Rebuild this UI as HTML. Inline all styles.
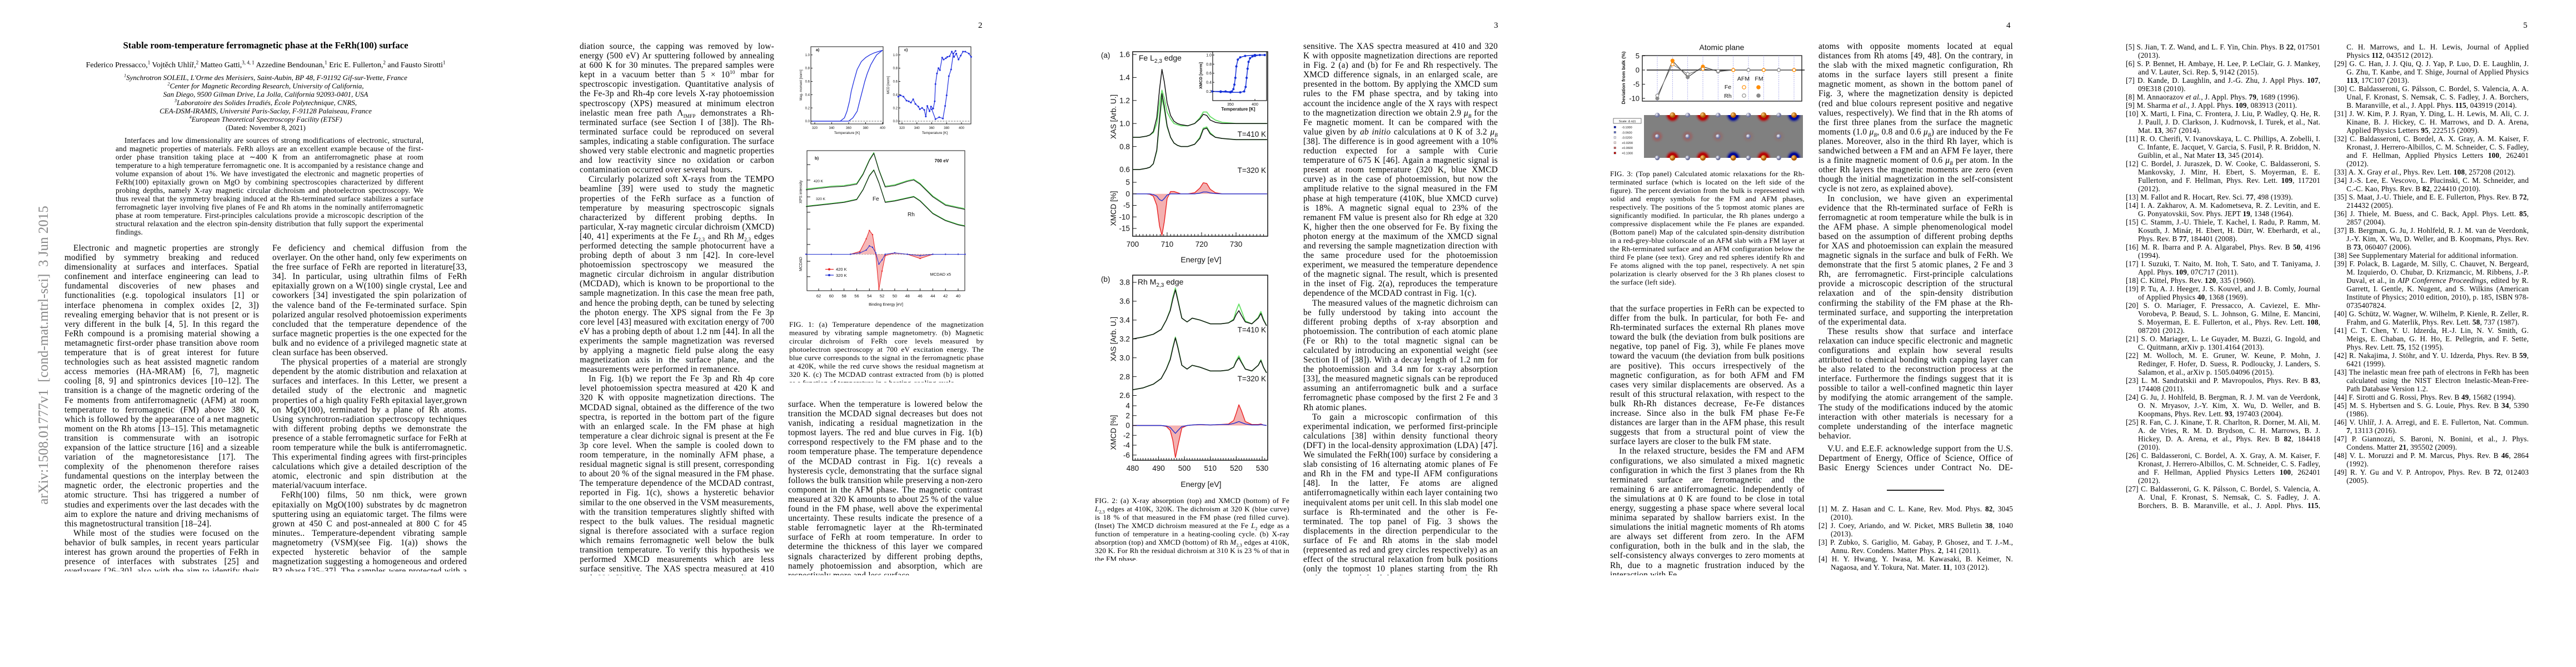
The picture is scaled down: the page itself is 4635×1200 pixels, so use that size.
<!DOCTYPE html>
<html lang="en"><head><meta charset="utf-8">
<style>
html,body{margin:0;padding:0;background:#fff;}
body{width:4635px;height:1200px;position:relative;overflow:hidden;font-family:"Liberation Serif",serif;color:#000;}
.col{position:absolute;width:350px;font-size:15.3px;line-height:17.1px;letter-spacing:0.25px;text-align:justify;overflow:hidden;hyphens:auto;-webkit-hyphens:auto;}
.col p{margin:0;text-indent:16px;}
.col p.ni{text-indent:0;}
.cap{position:absolute;width:350px;font-size:13.1px;line-height:15px;letter-spacing:0.2px;text-align:justify;overflow:hidden;hyphens:auto;}
.ref{position:absolute;width:350px;font-size:13.2px;line-height:15px;letter-spacing:0.2px;text-align:justify;overflow:hidden;hyphens:auto;}
.ref div{padding-left:22px;text-indent:-22px;}
.pn{position:absolute;top:38px;font-size:15px;}
.ctr{position:absolute;left:116px;width:724px;text-align:center;}
sup,sub{line-height:0;}
</style></head><body>

<!-- PAGE 1 -->
<div style="position:absolute;left:66px;top:337px;width:26px;height:604px;">
<div style="position:absolute;left:-289px;top:289px;width:604px;height:26px;transform:rotate(-90deg);font-size:25px;line-height:26px;color:#888;white-space:nowrap;text-align:center;">arXiv:1508.01777v1&nbsp; [cond-mat.mtrl-sci]&nbsp; 3 Jun 2015</div></div>
<div class="ctr" style="top:72px;font-size:16.8px;font-weight:bold;">Stable room-temperature ferromagnetic phase at the FeRh(100) surface</div>
<div class="ctr" style="top:110px;font-size:14px;">Federico Pressacco,<sup style="font-size:9px">1</sup> Vojtěch Uhlíř,<sup style="font-size:9px">2</sup> Matteo Gatti,<sup style="font-size:9px">3, 4, 1</sup> Azzedine Bendounan,<sup style="font-size:9px">1</sup> Eric E. Fullerton,<sup style="font-size:9px">2</sup> and Fausto Sirotti<sup style="font-size:9px">1</sup></div>
<div class="ctr" style="top:132px;font-size:13px;line-height:15px;font-style:italic;">
<sup style="font-size:8px">1</sup>Synchrotron SOLEIL, L'Orme des Merisiers, Saint-Aubin, BP 48, F-91192 Gif-sur-Yvette, France<br>
<sup style="font-size:8px">2</sup>Center for Magnetic Recording Research, University of California,<br>
San Diego, 9500 Gilman Drive, La Jolla, California 92093-0401, USA<br>
<sup style="font-size:8px">3</sup>Laboratoire des Solides Irradiés, École Polytechnique, CNRS,<br>
CEA-DSM-IRAMIS, Université Paris-Saclay, F-91128 Palaiseau, France<br>
<sup style="font-size:8px">4</sup>European Theoretical Spectroscopy Facility (ETSF)<br>
<span style="font-style:normal">(Dated: November 8, 2021)</span></div>
<div style="position:absolute;left:208px;top:245px;width:554px;font-size:13.4px;line-height:15px;letter-spacing:0.2px;text-align:justify;text-indent:16px;hyphens:auto;">Interfaces and low dimensionality are sources of strong modifications of electronic, structural, and magnetic properties of materials. FeRh alloys are an excellent example because of the first-order phase transition taking place at ∼400 K from an antiferromagnetic phase at room temperature to a high temperature ferromagnetic one. It is accompanied by a resistance change and volume expansion of about 1%. We have investigated the electronic and magnetic properties of FeRh(100) epitaxially grown on MgO by combining spectroscopies characterized by different probing depths, namely X-ray magnetic circular dichroism and photoelectron spectroscopy. We thus reveal that the symmetry breaking induced at the Rh-terminated surface stabilizes a surface ferromagnetic layer involving five planes of Fe and Rh atoms in the nominally antiferromagnetic phase at room temperature. First-principles calculations provide a microscopic description of the structural relaxation and the electron spin-density distribution that fully support the experimental findings.</div>

<div class="col" style="left:116px;top:438px;height:590px;">
<p>Electronic and magnetic properties are strongly modified by symmetry breaking and reduced dimensionality at surfaces and interfaces. Spatial confinement and interface engineering can lead to fundamental discoveries of new phases and functionalities (e.g. topological insulators [1] or interface phenomena in complex oxides [2, 3]) revealing emerging behavior that is not present or is very different in the bulk [4, 5]. In this regard the FeRh compound is a promising material showing a metamagnetic first-order phase transition above room temperature that is of great interest for future technologies such as heat assisted magnetic random access memories (HA-MRAM) [6, 7], magnetic cooling [8, 9] and spintronics devices [10–12]. The transition is a change of the magnetic ordering of the Fe moments from antiferromagnetic (AFM) at room temperature to ferromagnetic (FM) above 380 K, which is followed by the appearance of a net magnetic moment on the Rh atoms [13–15]. This metamagnetic transition is commensurate with an isotropic expansion of the lattice structure [16] and a sizeable variation of the magnetoresistance [17]. The complexity of the phenomenon therefore raises fundamental questions on the interplay between the magnetic order, the electronic properties and the atomic structure. Thsi has triggered a number of studies and experiments over the last decades with the aim to explore the nature and driving mechanisms of this magnetostructural transition [18–24].</p>
<p>While most of the studies were focused on the behavior of bulk samples, in recent years particular interest has grown around the properties of FeRh in presence of interfaces with substrates [25] and overlayers [26–30], also with the aim to identify their influence on the nucleation of the FM domains associated with the phase transition [21, 31, 32]. The identification of an interfacial FM layer was attributed to a combination of the effects of strain,</p></div>
<div class="col" style="left:490px;top:438px;height:590px;">
<p class="ni">Fe deficiency and chemical diffusion from the overlayer. On the other hand, only few experiments on the free surface of FeRh are reported in literature[33, 34]. In particular, using ultrathin films of FeRh epitaxially grown on a W(100) single crystal, Lee and coworkers [34] investigated the spin polarization of the valence band of the Fe-terminated surface. Spin polarized angular resolved photoemission experiments concluded that the temperature dependence of the surface magnetic properties is the one expected for the bulk and no evidence of a privileged magnetic state at clean surface has been observed.</p>
<p>The physical properties of a material are strongly dependent by the atomic distribution and relaxation at surfaces and interfaces. In this Letter, we present a detailed study of the electronic and magnetic properties of a high quality FeRh epitaxial layer,grown on MgO(100), terminated by a plane of Rh atoms. Using synchrotron-radiation spectroscopy techniques with different probing depths we demonstrate the presence of a stable ferromagnetic surface for FeRh at room temperature while the bulk is antiferromagnetic. This experimental finding agrees with first-principles calculations which give a detailed description of the atomic, electronic and spin distribution at the material/vacuum interface.</p>
<p>FeRh(100) films, 50 nm thick, were grown epitaxially on MgO(100) substrates by dc magnetron sputtering using an equiatomic target. The films were grown at 450 C and post-annealed at 800 C for 45 minutes.. Temperature-dependent vibrating sample magnetometry (VSM)(see Fig. 1(a)) shows the expected hysteretic behavior of the sample magnetization suggesting a homogeneous and ordered B2 phase [35–37]. The samples were protected with a 2 nm thick Pt layer grown after cooling down to room temperature. In the preparation chamber of the TEMPO beamline at the SOLEIL synchrotron ra-</p></div>

<!-- PAGE 2 -->
<div class="pn" style="left:1760px;">2</div>
<div class="col" style="left:1043px;top:75px;height:960px;">
<p class="ni">diation source, the capping was removed by low-energy (500 eV) Ar sputtering followed by annealing at 600 K for 30 minutes. The prepared samples were kept in a vacuum better than 5 × 10<sup style="font-size:9px">10</sup> mbar for spectroscopic investigation. Quantitative analysis of the Fe-3p and Rh-4p core levels X-ray photoemission spectroscopy (XPS) measured at minimum electron inelastic mean free path Λ<sub style="font-size:9px">IMFP</sub> demonstrates a Rh-terminated surface (see Section I of [38]). The Rh-terminated surface could be reproduced on several samples, indicating a stable configuration. The surface showed very stable electronic and magnetic properties and low reactivity since no oxidation or carbon contamination occurred over several hours.</p>
<p>Circularly polarized soft X-rays from the TEMPO beamline [39] were used to study the magnetic properties of the FeRh surface as a function of temperature by measuring spectroscopic signals characterized by different probing depths. In particular, X-ray magnetic circular dichroism (XMCD) [40, 41] experiments at the Fe <i>L</i><sub style="font-size:9px">2,3</sub> and Rh <i>M</i><sub style="font-size:9px">2,3</sub> edges performed detecting the sample photocurrent have a probing depth of about 3 nm [42]. In core-level photoemission spectroscopy we measured the magnetic circular dichroism in angular distribution (MCDAD), which is known to be proportional to the sample magnetization. In this case the mean free path, and hence the probing depth, can be tuned by selecting the photon energy. The XPS signal from the Fe 3p core level [43] measured with excitation energy of 700 eV has a probing depth of about 1.2 nm [44]. In all the experiments the sample magnetization was reversed by applying a magnetic field pulse along the easy magnetization axis in the surface plane, and the measurements were performed in remanence.</p>
<p>In Fig. 1(b) we report the Fe 3p and Rh 4p core level photoemission spectra measured at 420 K and 320 K with opposite magnetization directions. The MCDAD signal, obtained as the difference of the two spectra, is reported in the bottom part of the figure with an enlarged scale. In the FM phase at high temperature a clear dichroic signal is present at the Fe 3p core level. When the sample is cooled down to room temperature, in the nominally AFM phase, a residual magnetic signal is still present, corresponding to about 20 % of the signal measured in the FM phase. The temperature dependence of the MCDAD contrast, reported in Fig. 1(c), shows a hysteretic behavior similar to the one observed in the VSM measurements, with the transition temperatures slightly shifted with respect to the bulk values. The residual magnetic signal is therefore associated with a surface region which remains ferromagnetic well below the bulk transition temperature. To verify this hypothesis we performed XMCD measurements which are less surface sensitive. The XAS spectra measured at 410 and 320 K with opposite magnetization directions were recorded both for the Fe and Rh absorption edges and compared with the photoemission results.</p></div>
<div class="cap" style="left:1420px;top:576px;height:112px;">FIG. 1: (a) Temperature dependence of the magnetization measured by vibrating sample magnetometry. (b) Magnetic circular dichroism of FeRh core levels measured by photoelectron spectroscopy at 700 eV excitation energy. The blue curve corresponds to the signal in the ferromagnetic phase at 420K, while the red curve shows the residual magnetism at 320 K. (c) The MCDAD contrast extracted from (b) is plotted as a function of temperature in a heating-cooling cycle.</div>
<div class="col" style="left:1418px;top:719px;height:316px;">
<p class="ni">surface. When the temperature is lowered below the transition the MCDAD signal decreases but does not vanish, indicating a residual magnetization in the topmost layers. The red and blue curves in Fig. 1(b) correspond respectively to the FM phase and to the room temperature phase. The temperature dependence of the MCDAD contrast in Fig. 1(c) reveals a hysteresis cycle, demonstrating that the surface signal follows the bulk transition while preserving a non-zero component in the AFM phase. The magnetic contrast measured at 320 K amounts to about 25 % of the value found in the FM phase, well above the experimental uncertainty. These results indicate the presence of a stable ferromagnetic layer at the Rh-terminated surface of FeRh at room temperature. In order to determine the thickness of this layer we compared signals characterized by different probing depths, namely photoemission and absorption, which are respectively more and less surface</p></div>

<!-- PAGE 3 -->
<div class="pn" style="left:2688px;">3</div>
<div class="cap" style="left:1970px;top:893px;height:116px;">FIG. 2: (a) X-ray absorption (top) and XMCD (bottom) of Fe <i>L</i><sub style="font-size:8px">2,3</sub> edges at 410K, 320K. The dichroism at 320 K (blue curve) is 18 % of that measured in the FM phase (red filled curve). (Inset) The XMCD dichroism measured at the Fe <i>L</i><sub style="font-size:8px">2</sub> edge as a function of temperature in a heating-cooling cycle. (b) X-ray absorption (top) and XMCD (bottom) of Rh <i>M</i><sub style="font-size:8px">2,3</sub> edges at 410K, 320 K. For Rh the residual dichroism at 310 K is 23 % of that in the FM phase.</div>
<div class="col" style="left:2345px;top:75px;height:960px;">
<p class="ni">sensitive. The XAS spectra measured at 410 and 320 K with opposite magnetization directions are reported in Fig. 2 (a) and (b) for Fe and Rh respectively. The XMCD difference signals, in an enlarged scale, are presented in the bottom. By applying the XMCD sum rules to the FM phase spectra, and by taking into account the incidence angle of the X rays with respect to the magnetization direction we obtain 2.9 <i>μ<sub style="font-size:9px">B</sub></i> for the Fe magnetic moment. It can be compared with the value given by <i>ab initio</i> calculations at 0 K of 3.2 <i>μ<sub style="font-size:9px">B</sub></i> [38]. The difference is in good agreement with a 10% reduction expected for a sample with Curie temperature of 675 K [46]. Again a magnetic signal is present at room temperature (320 K, blue XMCD curve) as in the case of photoemission, but now the amplitude relative to the signal measured in the FM phase at high temperature (410K, blue XMCD curve) is 18%. A magnetic signal equal to 23% of the remanent FM value is present also for Rh edge at 320 K, higher then the one observed for Fe. By fixing the photon energy at the maximum of the XMCD signal and reversing the sample magnetization direction with the same procedure used for the photoemission experiment, we measured the temperature dependence of the magnetic signal. The result, which is presented in the inset of Fig. 2(a), reproduces the temperature dependence of the MCDAD contrast in Fig. 1(c).</p>
<p>The measured values of the magnetic dichroism can be fully understood by taking into account the different probing depths of x-ray absorption and photoemission. The contribution of each atomic plane (Fe or Rh) to the total magnetic signal can be calculated by introducing an exponential weight (see Section II of [38]). With a decay length of 1.2 nm for the photoemission and 3.4 nm for x-ray absorption [33], the measured magnetic signals can be reproduced assuming an antiferromagnetic bulk and a surface ferromagnetic phase composed by the first 2 Fe and 3 Rh atomic planes.</p>
<p>To gain a microscopic confirmation of this experimental indication, we performed first-principle calculations [38] within density functional theory (DFT) in the local-density approximation (LDA) [47]. We simulated the FeRh(100) surface by considering a slab consisting of 16 alternating atomic planes of Fe and Rh in the FM and type-II AFM configurations [48]. In the latter, Fe atoms are aligned antiferromagnetically within each layer containing two inequivalent atoms per unit cell. In this slab model one surface is Rh-terminated and the other is Fe-terminated. The top panel of Fig. 3 shows the displacements in the direction perpendicular to the surface of Fe and Rh atoms in the slab model (represented as red and grey circles respectively) as an effect of the structural relaxation from bulk positions (only the topmost 10 planes starting from the Rh surface, on the left of the figure, are shown for better clarity). We find that while the central planes remain equidistant as in the bulk, the surface planes undergo a sizeable displacement, confirming</p></div>

<!-- PAGE 4 -->
<div class="pn" style="left:3610px;">4</div>
<div class="cap" style="left:2897px;top:305px;height:212px;">FIG. 3: (Top panel) Calculated atomic relaxations for the Rh-terminated surface (which is located on the left side of the figure). The percent deviation from the bulk is represented with solid and empty symbols for the FM and AFM phases, respectively. The positions of the 5 topmost atomic planes are significantly modified. In particular, the Rh planes undergo a compressive displacement while the Fe planes are expanded. (Bottom panel) Map of the calculated spin-density distribution in a red-grey-blue colorscale of an AFM slab with a FM layer at the Rh-terminated surface and an AFM configuration below the third Fe plane (see text). Grey and red spheres identify Rh and Fe atoms aligned with the top panel, respectively. A net spin polarization is clearly observed for the 3 Rh planes closest to the surface (left side).</div>
<div class="col" style="left:2897px;top:547px;height:488px;">
<p class="ni">that the surface properties in FeRh can be expected to differ from the bulk. In particular, for both Fe- and Rh-terminated surfaces the external Rh planes move toward the bulk (the deviation from bulk positions are negative, top panel of Fig. 3), while Fe planes move toward the vacuum (the deviation from bulk positions are positive). This occurs irrespectively of the magnetic configuration, as for both AFM and FM cases very similar displacements are observed. As a result of this structural relaxation, with respect to the bulk Rh-Rh distances decrease, Fe-Fe distances increase. Since also in the bulk FM phase Fe-Fe distances are larger than in the AFM phase, this result suggests that from a structural point of view the surface layers are closer to the bulk FM state.</p>
<p>In the relaxed structure, besides the FM and AFM configurations, we also simulated a mixed magnetic configuration in which the first 3 planes from the Rh terminated surface are ferromagnetic and the remaining 6 are antiferromagnetic. Independently of the simulations at 0 K are found to be close in total energy, suggesting a phase space where several local minima separated by shallow barriers exist. In the simulations the initial magnetic moments of Rh atoms are always set different from zero. In the AFM configuration, both in the bulk and in the slab, the self-consistency always converges to zero moments at Rh, due to a magnetic frustration induced by the interaction with Fe</p></div>
<div class="col" style="left:3272px;top:75px;height:720px;">
<p class="ni">atoms with opposite moments located at equal distances from Rh atoms [49, 48]. On the contrary, in the slab with the mixed magnetic configuration, Rh atoms in the surface layers still present a finite magnetic moment, as shown in the bottom panel of Fig. 3, where the magnetization density is depicted (red and blue colours represent positive and negative values, respectively). We find that in the Rh atoms of the first three planes from the surface the magnetic moments (1.0 <i>μ<sub style="font-size:9px">B</sub></i>, 0.8 and 0.6 <i>μ<sub style="font-size:9px">B</sub></i>) are induced by the Fe planes. Moreover, also in the third Rh layer, which is sandwiched between a FM and an AFM Fe layer, there is a finite magnetic moment of 0.6 <i>μ<sub style="font-size:9px">B</sub></i> per atom. In the other Rh layers the magnetic moments are zero (even though the initial magnetization in the self-consistent cycle is not zero, as explained above).</p>
<p>In conclusion, we have given an experimental evidence that the Rh-terminated surface of FeRh is ferromagnetic at room temperature while the bulk is in the AFM phase. A simple phenomenological model based on the assumption of different probing depths for XAS and photoemission can explain the measured magnetic signals in the surface and bulk of FeRh. We demonstrate that the first 5 atomic planes, 2 Fe and 3 Rh, are ferromagnetic. First-principle calculations provide a microscopic description of the structural relaxation and of the spin-density distribution confirming the stability of the FM phase at the Rh-terminated surface, and supporting the interpretation of the experimental data.</p>
<p>These results show that surface and interface relaxation can induce specific electronic and magnetic configurations and explain how several results attributed to chemical bonding with capping layer can be also related to the reconstruction process at the interface. Furthermore the findings suggest that it is possible to tailor a well-confined magnetic thin layer by modifying the atomic arrangement of the sample. The study of the modifications induced by the atomic interaction with other materials is necessary for a complete understanding of the interface magnetic behavior.</p></div>
<div class="col" style="left:3272px;top:799px;height:52px;">
<p>V.U. and E.E.F. acknowledge support from the U.S. Department of Energy, Office of Science, Office of Basic Energy Sciences under Contract No. DE-SC0003678.</p></div>
<div style="position:absolute;left:3395px;top:881px;width:103px;height:1.5px;background:#222;"></div>
<div class="ref" style="left:3272px;top:908px;height:125px;">
<div>[1] M. Z. Hasan and C. L. Kane, Rev. Mod. Phys. <b>82</b>, 3045 (2010).</div>
<div>[2] J. Coey, Ariando, and W. Picket, MRS Bulletin <b>38</b>, 1040 (2013).</div>
<div>[3] P. Zubko, S. Gariglio, M. Gabay, P. Ghosez, and T. J.-M., Annu. Rev. Condens. Matter Phys. <b>2</b>, 141 (2011).</div>
<div>[4] H. Y. Hwang, Y. Iwasa, M. Kawasaki, B. Keimer, N. Nagaosa, and Y. Tokura, Nat. Mater. <b>11</b>, 103 (2012).</div></div>

<!-- PAGE 5 -->
<div class="pn" style="left:4540px;">5</div>
<div class="ref" style="left:3825px;top:77px;height:838px;">
<div>[5] S. Jian, T. Z. Wand, and L. F. Yin, Chin. Phys. B <b>22</b>, 017501 (2013).</div>
<div>[6] S. P. Bennet, H. Ambaye, H. Lee, P. LeClair, G. J. Mankey, and V. Lauter, Sci. Rep. <b>5</b>, 9142 (2015).</div>
<div>[7] D. Kande, D. Laughlin, and J.-G. Zhu, J. Appl Phys. <b>107</b>, 09E318 (2010).</div>
<div>[8] M. Annaorazov <i>et al.</i>, J. Appl. Phys. <b>79</b>, 1689 (1996).</div>
<div>[9] M. Sharma <i>et al.</i>, J. Appl. Phys. <b>109</b>, 083913 (2011).</div>
<div>[10] X. Marti, I. Fina, C. Frontera, J. Liu, P. Wadley, Q. He, R. J. Paull, J. D. Clarkson, J. Kudrnovsk, I. Turek, et al., Nat. Mat. <b>13</b>, 367 (2014).</div>
<div>[11] R. O. Cherifi, V. Ivanovskaya, L. C. Phillips, A. Zobelli, I. C. Infante, E. Jacquet, V. Garcia, S. Fusil, P. R. Briddon, N. Guiblin, et al., Nat Mater <b>13</b>, 345 (2014).</div>
<div>[12] C. Bordel, J. Juraszek, D. W. Cooke, C. Baldasseroni, S. Mankovsky, J. Minr, H. Ebert, S. Moyerman, E. E. Fullerton, and F. Hellman, Phys. Rev. Lett. <b>109</b>, 117201 (2012).</div>
<div>[13] M. Fallot and R. Hocart, Rev. Sci. <b>77</b>, 498 (1939).</div>
<div>[14] I. A. Zakharov, A. M. Kadometseva, R. Z. Levitin, and E. G. Ponyatovskii, Sov. Phys. JEPT <b>19</b>, 1348 (1964).</div>
<div>[15] C. Stamm, J.-U. Thiele, T. Kachel, I. Radu, P. Ramm, M. Kosuth, J. Minár, H. Ebert, H. Dürr, W. Eberhardt, et al., Phys. Rev. B <b>77</b>, 184401 (2008).</div>
<div>[16] M. R. Ibarra and P. A. Algarabel, Phys. Rev. B <b>50</b>, 4196 (1994).</div>
<div>[17] I. Suzuki, T. Naito, M. Itoh, T. Sato, and T. Taniyama, J. Appl. Phys. <b>109</b>, 07C717 (2011).</div>
<div>[18] C. Kittel, Phys. Rev. <b>120</b>, 335 (1960).</div>
<div>[19] P. Tu, A. J. Heeger, J. S. Kouvel, and J. B. Comly, Journal of Applied Physics <b>40</b>, 1368 (1969).</div>
<div>[20] S. O. Mariager, F. Pressacco, A. Caviezel, E. Mhr-Vorobeva, P. Beaud, S. L. Johnson, G. Milne, E. Mancini, S. Moyerman, E. E. Fullerton, et al., Phys. Rev. Lett. <b>108</b>, 087201 (2012).</div>
<div>[21] S. O. Mariager, L. Le Guyader, M. Buzzi, G. Ingold, and C. Quitmann, arXiv p. 1301.4164 (2013).</div>
<div>[22] M. Wolloch, M. E. Gruner, W. Keune, P. Mohn, J. Redinger, F. Hofer, D. Suess, R. Podloucky, J. Landers, S. Salamon, et al., arXiv p. 1505.04096 (2015).</div>
<div>[23] L. M. Sandratskii and P. Mavropoulos, Phys. Rev. B <b>83</b>, 174408 (2011).</div>
<div>[24] G. Ju, J. Hohlfeld, B. Bergman, R. J. M. van de Veerdonk, O. N. Mryasov, J.-Y. Kim, X. Wu, D. Weller, and B. Koopmans, Phys. Rev. Lett. <b>93</b>, 197403 (2004).</div>
<div>[25] R. Fan, C. J. Kinane, T. R. Charlton, R. Dorner, M. Ali, M. A. de Vries, R. M. D. Brydson, C. H. Marrows, B. J. Hickey, D. A. Arena, et al., Phys. Rev. B <b>82</b>, 184418 (2010).</div>
<div>[26] C. Baldasseroni, C. Bordel, A. X. Gray, A. M. Kaiser, F. Kronast, J. Herrero-Albillos, C. M. Schneider, C. S. Fadley, and F. Hellman, Applied Physics Letters <b>100</b>, 262401 (2012).</div>
<div>[27] C. Baldasseroni, G. K. Pálsson, C. Bordel, S. Valencia, A. A. Unal, F. Kronast, S. Nemsak, C. S. Fadley, J. A. Borchers, B. B. Maranville, et al., J. Appl. Phys. <b>115</b>, 043919 (2014).</div>
<div>[28] C. W. Barton, T. A. Ostler, D. Huskisson, C. J. Kinane, S. J. Haigh, G. Hrkac, and T. Thomson, arXiv (2015).</div></div>
<div class="ref" style="left:4200px;top:77px;height:808px;">
<div style="padding-left:22px;text-indent:0">C. H. Marrows, and L. H. Lewis, Journal of Applied Physics <b>112</b>, 043512 (2012).</div>
<div>[29] G. C. Han, J. J. Qiu, Q. J. Yap, P. Luo, D. E. Laughlin, J. G. Zhu, T. Kanbe, and T. Shige, Journal of Applied Physics <b>113</b>, 17C107 (2013).</div>
<div>[30] C. Baldasseroni, G. Pálsson, C. Bordel, S. Valencia, A. A. Unal, F. Kronast, S. Nemsak, C. S. Fadley, J. A. Borchers, B. Maranville, et al., J. Appl. Phys. <b>115</b>, 043919 (2014).</div>
<div>[31] J. W. Kim, P. J. Ryan, Y. Ding, L. H. Lewis, M. Ali, C. J. Kinane, B. J. Hickey, C. H. Marrows, and D. A. Arena, Applied Physics Letters <b>95</b>, 222515 (2009).</div>
<div>[32] C. Baldasseroni, C. Bordel, A. X. Gray, A. M. Kaiser, F. Kronast, J. Herrero-Albillos, C. M. Schneider, C. S. Fadley, and F. Hellman, Applied Physics Letters <b>100</b>, 262401 (2012).</div>
<div>[33] A. X. Gray <i>et al.</i>, Phys. Rev. Lett. <b>108</b>, 257208 (2012).</div>
<div>[34] J.-S. Lee, E. Vescovo, L. Plucinski, C. M. Schneider, and C.-C. Kao, Phys. Rev. B <b>82</b>, 224410 (2010).</div>
<div>[35] S. Maat, J.-U. Thiele, and E. E. Fullerton, Phys. Rev. B <b>72</b>, 214432 (2005).</div>
<div>[36] J. Thiele, M. Buess, and C. Back, Appl. Phys. Lett. <b>85</b>, 2857 (2004).</div>
<div>[37] B. Bergman, G. Ju, J. Hohlfeld, R. J. M. van de Veerdonk, J.-Y. Kim, X. Wu, D. Weller, and B. Koopmans, Phys. Rev. B <b>73</b>, 060407 (2006).</div>
<div>[38] See Supplementary Material for additional information.</div>
<div>[39] F. Polack, B. Lagarde, M. Silly, C. Chauvet, N. Bergeard, M. Izquierdo, O. Chubar, D. Krizmancic, M. Ribbens, J.-P. Duval, et al., in <i>AIP Conference Proceedings</i>, edited by R. Garrett, I. Gentle, K. Nugent, and S. Wilkins (American Institute of Physics; 2010 edition, 2010), p. 185, ISBN 978-0735407824.</div>
<div>[40] G. Schütz, W. Wagner, W. Wilhelm, P. Kienle, R. Zeller, R. Frahm, and G. Materlik, Phys. Rev. Lett. <b>58</b>, 737 (1987).</div>
<div>[41] C. T. Chen, Y. U. Idzerda, H.-J. Lin, N. V. Smith, G. Meigs, E. Chaban, G. H. Ho, E. Pellegrin, and F. Sette, Phys. Rev. Lett. <b>75</b>, 152 (1995).</div>
<div>[42] R. Nakajima, J. Stöhr, and Y. U. Idzerda, Phys. Rev. B <b>59</b>, 6421 (1999).</div>
<div>[43] The inelastic mean free path of electrons in FeRh has been calculated using the NIST Electron Inelastic-Mean-Free-Path Database Version 1.2.</div>
<div>[44] F. Sirotti and G. Rossi, Phys. Rev. B <b>49</b>, 15682 (1994).</div>
<div>[45] M. S. Hybertsen and S. G. Louie, Phys. Rev. B <b>34</b>, 5390 (1986).</div>
<div>[46] V. Uhlíř, J. A. Arregi, and E. E. Fullerton, Nat. Commun. <b>7</b>, 13113 (2016).</div>
<div>[47] P. Giannozzi, S. Baroni, N. Bonini, et al., J. Phys. Condens. Matter <b>21</b>, 395502 (2009).</div>
<div>[48] V. L. Moruzzi and P. M. Marcus, Phys. Rev. B <b>46</b>, 2864 (1992).</div>
<div>[49] R. Y. Gu and V. P. Antropov, Phys. Rev. B <b>72</b>, 012403 (2005).</div></div>

<svg id="charts" width="4635" height="1200" style="position:absolute;left:0;top:0;" xmlns="http://www.w3.org/2000/svg">
<defs>
<radialGradient id="gRed"><stop offset="0" stop-color="#b00000"/><stop offset="0.55" stop-color="#b80808"/><stop offset="1" stop-color="#808080" stop-opacity="0"/></radialGradient>
<radialGradient id="gBlue"><stop offset="0" stop-color="#000090"/><stop offset="0.55" stop-color="#000a99"/><stop offset="1" stop-color="#808080" stop-opacity="0"/></radialGradient>
<radialGradient id="gPink"><stop offset="0" stop-color="#b04040"/><stop offset="0.6" stop-color="#a05858" stop-opacity="0.6"/><stop offset="1" stop-color="#808080" stop-opacity="0"/></radialGradient>
<radialGradient id="gAtomRh" cx="0.35" cy="0.35"><stop offset="0" stop-color="#ffffff"/><stop offset="1" stop-color="#6a6e9a"/></radialGradient>
<radialGradient id="gAtomFe" cx="0.35" cy="0.35"><stop offset="0" stop-color="#ffd080"/><stop offset="1" stop-color="#b05a00"/></radialGradient>
</defs>
</svg>

<script>
// ---------- FIG 1 data ----------
const vsmHeatT = [315, 350, 360, 365, 370, 373, 376, 379, 382, 386, 390, 393, 397, 400];
const vsmHeatM = [0.0, 0.0, 0.0, 0.05, 0.15, 0.3, 0.45, 0.6, 0.72, 0.85, 0.94, 1.0, 1.04, 1.07];
const vsmCoolT = [400, 395, 390, 385, 380, 375, 370, 366, 363, 361, 358, 355, 350, 315];
const vsmCoolM = [1.07, 1.05, 1.03, 1.0, 0.96, 0.9, 0.78, 0.6, 0.45, 0.3, 0.15, 0.05, 0.0, 0.0];
const mcdCoolT = [315, 318, 322, 326, 329, 332, 335, 338, 342, 344, 347, 350, 352, 354, 357, 359, 362, 364, 365, 367, 369, 371, 374, 376, 379, 381, 384, 387, 390, 393, 396, 399, 402, 405, 410, 413];
const mcdCoolV = [0.37, 0.39, 0.37, 0.31, 0.30, 0.28, 0.33, 0.26, 0.22, 0.18, 0.20, 0.17, 0.07, 0.23, 0.15, 0.22, 0.19, 0.30, 0.56, 0.72, 0.80, 0.77, 0.96, 0.93, 0.95, 0.97, 0.98, 1.05, 0.97, 1.02, 0.93, 0.99, 1.05, 1.05, 1.02, 0.97];
const mcdHeatT = [360, 365, 370, 375, 378, 380, 383, 386, 389, 392];
const mcdHeatV = [0.18, 0.03, 0.06, 0.04, 0.23, 0.39, 0.68, 0.78, 1.02, 1.06];
const xpsE = [64, 62, 60, 58, 56, 55, 54, 53.3, 52.5, 51.5, 50, 48, 47, 46, 44, 42, 40, 38.9];
const xps420 = [72, 73, 74, 74.5, 76, 83, 93, 98, 86, 74, 75, 78, 79, 76, 67, 61, 59, 58];
const xps320 = [60, 61, 62, 63, 65, 72, 82, 86, 77, 63, 64, 66, 67, 64, 55, 50, 47, 46];
const mcdE = [64, 60, 57, 55.5, 54.5, 54, 53.5, 53, 52.5, 52, 51.5, 50, 48, 46, 44, 42, 40, 38.9];
const mcd420 = [26, 26, 26, 28, 37, 43, 40, 26, 1, 14, 25, 27, 26, 23, 26, 26, 26, 26];
const mcd320 = [26, 26, 26, 27, 29, 32, 31, 27, 19, 22, 26, 27, 26, 25, 26, 26, 26, 26];
const fig1TempTicks = [320, 340, 360, 380, 400];
const fig1MagTicks = [0.0, 0.2, 0.4, 0.6, 0.8, 1.0];
const fig1BeTicks = [62, 60, 58, 56, 54, 52, 50, 48, 46, 44, 42, 40];

// ---------- FIG 2 data ----------
const feE = [700, 702, 704, 705, 706, 707, 707.8, 708.5, 709.2, 710, 711, 712, 713, 714, 716, 718, 719.5, 720.5, 721.5, 722.5, 724, 726, 730, 735, 739];
const fe410Black = [0.88, 0.88, 0.89, 0.90, 0.93, 1.05, 1.30, 1.47, 1.36, 1.18, 1.07, 1.02, 1.0, 0.99, 0.98, 1.0, 1.04, 1.08, 1.07, 1.03, 1.01, 1.0, 1.0, 1.0, 1.0];
const fe410Green = [0.88, 0.88, 0.89, 0.90, 0.92, 1.0, 1.18, 1.29, 1.22, 1.10, 1.04, 1.0, 0.99, 0.98, 0.98, 1.0, 1.05, 1.10, 1.10, 1.06, 1.03, 1.01, 1.0, 1.0, 1.0];
const fe320Black = [0.60, 0.60, 0.61, 0.62, 0.65, 0.77, 1.05, 1.26, 1.15, 0.98, 0.88, 0.83, 0.81, 0.80, 0.80, 0.82, 0.87, 0.95, 0.96, 0.91, 0.88, 0.87, 0.86, 0.86, 0.86];
const fe320Green = [0.60, 0.60, 0.61, 0.62, 0.65, 0.76, 1.02, 1.22, 1.12, 0.97, 0.88, 0.83, 0.81, 0.80, 0.80, 0.82, 0.88, 0.96, 0.97, 0.92, 0.88, 0.87, 0.86, 0.86, 0.86];
const feXmcdFM = [0, 0, 0, -0.2, -1, -5, -14, -18, -12, -2, 1, 1, 0.5, 0, 0, 0.5, 2.5, 4.8, 4.5, 2, 0.5, 0, 0, 0, 0];
const feXmcdRT = [0, 0, 0, 0, -0.3, -1, -2.5, -3, -2, -0.5, 0, 0, 0, 0, 0, 0, 0.3, 0.8, 0.8, 0.4, 0.1, 0, 0, 0, 0];
const insetHeatT = [313, 330, 350, 370, 378, 381, 383, 385, 387, 390, 395, 400, 410, 420];
const insetHeatV = [0.20, 0.19, 0.18, 0.18, 0.20, 0.30, 0.50, 0.70, 0.85, 0.93, 0.97, 0.98, 1.0, 1.0];
const insetCoolT = [420, 400, 380, 370, 365, 362, 360, 358, 356, 353, 350, 340, 330, 313];
const insetCoolV = [1.0, 1.0, 0.98, 0.95, 0.90, 0.75, 0.50, 0.35, 0.25, 0.20, 0.19, 0.20, 0.20, 0.20];
const rhE = [480, 484, 488, 491, 493, 494.5, 495.5, 496.5, 497.5, 499, 501, 503, 506, 510, 514, 517, 519, 520, 521, 522, 523.5, 526, 528.5, 529.5, 530.5, 531.7];
const rh410Black = [3.20, 3.22, 3.25, 3.30, 3.40, 3.50, 3.62, 3.72, 3.60, 3.42, 3.38, 3.42, 3.40, 3.36, 3.36, 3.37, 3.40, 3.46, 3.50, 3.45, 3.38, 3.36, 3.42, 3.47, 3.40, 3.34];
const rh410Green = [3.20, 3.22, 3.25, 3.30, 3.40, 3.51, 3.64, 3.74, 3.61, 3.42, 3.38, 3.42, 3.40, 3.36, 3.36, 3.37, 3.41, 3.50, 3.57, 3.50, 3.39, 3.36, 3.43, 3.49, 3.41, 3.34];
const rh320Black = [2.66, 2.68, 2.72, 2.78, 2.88, 2.98, 3.10, 3.21, 3.10, 2.92, 2.88, 2.92, 2.90, 2.86, 2.86, 2.87, 2.90, 2.96, 3.00, 2.95, 2.88, 2.86, 2.92, 2.97, 2.90, 2.84];
const rh320Green = [2.66, 2.68, 2.72, 2.78, 2.88, 2.99, 3.11, 3.22, 3.11, 2.92, 2.88, 2.92, 2.90, 2.86, 2.86, 2.87, 2.90, 2.97, 3.02, 2.96, 2.88, 2.86, 2.92, 2.98, 2.90, 2.84];
const rhXmcdFM = [0, 0, 0, 0, -0.2, -1, -3, -6.5, -4, -0.5, 0, 0.1, 0.2, 0.1, 0.2, 0.3, 1, 2.5, 4.2, 3, 0.8, 0.2, 0.2, 0.3, 0.1, 0];
const rhXmcdRT = [0, 0, 0, 0, -0.1, -0.4, -1, -1.6, -1, -0.2, 0, 0.1, 0.2, 0.1, 0.2, 0.2, 0.4, 0.6, 0.8, 0.6, 0.3, 0.1, 0.1, 0.2, 0.1, 0];
const feXasTicks = [0.6, 0.8, 1.0, 1.2, 1.4, 1.6];
const feXmcdTicks = [5, 0, -5, -10, -15];
const feETicks = [700, 710, 720, 730];
const rhXasTicks = [2.6, 2.8, 3.0, 3.2, 3.4, 3.6, 3.8];
const rhXmcdTicks = [4, 2, 0, -2, -4, -6];
const rhETicks = [480, 490, 500, 510, 520, 530];

// ---------- FIG 3 data ----------
const planes = [1, 2, 3, 4, 5, 6, 7, 8, 9, 10];
const planeSpecies = ['Rh', 'Fe', 'Rh', 'Fe', 'Rh', 'Fe', 'Rh', 'Fe', 'Rh', 'Fe'];
const devFM = [-10, 3.3, -2.5, 1.2, -0.5, 0, 0, 0, 0, 0];
const devAFM = [-9, 2, -1.4, 0.4, -0.3, 0, 0, 0, 0, 0];
const spinTop = [0, 1, 0, 1, 0, -1, 0, 1, 0, -1];
const spinMid = [0.6, 0, 0.5, 0, 0.25, 0, 0.1, 0, 0.05, 0];
const devTicks = [5, 0, -5, -10];

// ---------- helpers ----------
const NS = 'http://www.w3.org/2000/svg';
const svg = document.getElementById('charts');
function lin(d0, d1, r0, r1) { return v => r0 + (v - d0) / (d1 - d0) * (r1 - r0); }
function add(tag, attrs) {
  const el = document.createElementNS(NS, tag);
  for (const k in attrs) el.setAttribute(k, attrs[k]);
  svg.appendChild(el);
  return el;
}
function txt(name, x, y, s, size, anchor, extra) {
  const el = add('text', Object.assign({x: x, y: y, 'font-size': size, 'text-anchor': anchor || 'start', 'font-family': 'Liberation Sans, sans-serif', fill: '#111'}, extra || {}));
  
  
  el.textContent = s;
  return el;
}
function pathD(xs, ys, X, Y) { return xs.map((x, i) => (i ? 'L' : 'M') + X(x).toFixed(1) + ',' + Y(ys[i]).toFixed(1)).join(''); }
function line(name, xs, ys, X, Y, stroke, w, dash) {
  const el = add('path', {d: pathD(xs, ys, X, Y), fill: 'none', stroke: stroke, 'stroke-width': w, 'stroke-linejoin': 'round'});
  if (dash) el.setAttribute('stroke-dasharray', dash);
  
  
  return el;
}
function area(name, xs, ys, base, X, Y, fill) {
  const d = pathD(xs, ys, X, Y) + 'L' + X(xs[xs.length - 1]).toFixed(1) + ',' + Y(base).toFixed(1) + 'L' + X(xs[0]).toFixed(1) + ',' + Y(base).toFixed(1) + 'Z';
  const el = add('path', {d: d, fill: fill, stroke: 'none'});
  
  
  return el;
}
function dots(name, xs, ys, X, Y, r, fill) {
  xs.forEach((x, i) => {
    const c = add('circle', {cx: X(x), cy: Y(ys[i]), r: r, fill: fill});
    
    
  });
}
function box(name, x0, y0, x1, y1, w) {
  const el = add('rect', {x: x0, y: y0, width: x1 - x0, height: y1 - y0, fill: 'none', stroke: '#111', 'stroke-width': w || 1.3});
  
  
}
function tickY(name, vals, Y, x0, len, labelX, size, fmt) {
  vals.forEach(v => {
    const t = add('line', {x1: x0, x2: x0 + len, y1: Y(v), y2: Y(v), stroke: '#111', 'stroke-width': 1});
    
    
    txt(name + '-label', labelX, Y(v) + size * 0.35, fmt ? fmt(v) : String(v), size, 'end');
  });
}
function tickX(name, vals, X, y0, len, labelY, size) {
  vals.forEach(v => {
    const t = add('line', {x1: X(v), x2: X(v), y1: y0, y2: y0 - len, stroke: '#111', 'stroke-width': 1});
    
    
    txt(name + '-label', X(v), labelY, String(v), size, 'middle');
  });
}
function vlabel(name, x, y, s, size, extra) {
  return txt(name, x, y, s, size, 'middle', Object.assign({transform: 'rotate(-90 ' + x + ' ' + y + ')'}, extra || {}));
}

// ---------- FIG 1 (page 2) ----------
(function () {
  const X = lin(320, 400, 1466, 1588), Y = lin(0, 1, 218, 98.8);
  box('fig1a-frame', 1459, 84, 1589, 223, 1);
  line('fig1a-zero-line', [315, 400], [0, 0], X, Y, '#333', 0.8, '3,2');
  line('fig1a-heating-curve', vsmHeatT, vsmHeatM, X, Y, '#1f2fe0', 1.3);
  line('fig1a-cooling-curve', vsmCoolT, vsmCoolM, X, Y, '#1f2fe0', 1.3);
  tickY('fig1a-y', fig1MagTicks, Y, 1459, 3, 1457, 6, v => v.toFixed(1));
  tickX('fig1a-x', fig1TempTicks, X, 223, 3, 232, 6);
  txt('fig1a-x-title', 1524, 241, 'Temperature [K]', 6.5, 'middle');
  vlabel('fig1a-y-title', 1443, 153, 'Mag. moment [norm]', 6);
  txt('fig1a-panel-label', 1468, 92, 'a)', 7, 'start', {'font-weight': 'bold'});
  const Xc = lin(320, 400, 1623, 1730);
  box('fig1c-frame', 1617, 84, 1747, 223, 1);
  line('fig1c-zero-line', [315, 413], [0, 0], Xc, Y, '#333', 0.8, '3,2');
  line('fig1c-cooling-curve', mcdCoolT, mcdCoolV, Xc, Y, '#1f2fe0', 1.2);
  dots('fig1c-cooling-point', mcdCoolT, mcdCoolV, Xc, Y, 1.5, '#1f2fe0');
  line('fig1c-heating-curve', mcdHeatT, mcdHeatV, Xc, Y, '#1f2fe0', 1.2);
  dots('fig1c-heating-point', mcdHeatT, mcdHeatV, Xc, Y, 1.5, '#1f2fe0');
  tickY('fig1c-y', fig1MagTicks, Y, 1617, 3, 1615, 6, v => v.toFixed(1));
  tickX('fig1c-x', fig1TempTicks, Xc, 223, 3, 232, 6);
  txt('fig1c-x-title', 1682, 241, 'Temperature [K]', 6.5, 'middle');
  vlabel('fig1c-y-title', 1600, 153, 'MCD [norm]', 6);
  txt('fig1c-panel-label', 1627, 92, 'c)', 7, 'start', {'font-weight': 'bold'});
  const Xb = lin(62, 40, 1473, 1724), Yb = lin(0, 100, 523, 271);
  box('fig1b-frame', 1452, 271, 1736, 523, 1);
  line('fig1b-420k-green', xpsE, xps420.map(v => v + 0.6), Xb, Yb, '#3fcf3f', 1.2);
  line('fig1b-420k-spectrum', xpsE, xps420, Xb, Yb, '#111', 1.1);
  line('fig1b-320k-green', xpsE, xps320.map(v => v + 0.4), Xb, Yb, '#3fcf3f', 1.2);
  line('fig1b-320k-spectrum', xpsE, xps320, Xb, Yb, '#111', 1.1);
  line('fig1b-mcdad-zero', [64, 38.9], [26, 26], Xb, Yb, '#555', 0.7, '3,2');
  area('fig1b-mcdad-420k-fill', mcdE, mcd420, 26, Xb, Yb, '#f6b8b8');
  line('fig1b-mcdad-420k', mcdE, mcd420, Xb, Yb, '#e82020', 1);
  dots('fig1b-mcdad-420k-point', mcdE, mcd420, Xb, Yb, 1.2, '#e82020');
  line('fig1b-mcdad-320k', mcdE, mcd320, Xb, Yb, '#2030d0', 1);
  dots('fig1b-mcdad-320k-point', mcdE, mcd320, Xb, Yb, 1.2, '#2030d0');
  fig1BeTicks.forEach(v => {
    const t = add('line', {x1: Xb(v), x2: Xb(v), y1: 523, y2: 519, stroke: '#111', 'stroke-width': 1});
    
    
    txt('fig1b-x-label', Xb(v), 535, String(v), 7.5, 'middle');
  });
  [10, 21, 33, 44, 56, 67, 79, 90].forEach(p => {
    const t = add('line', {x1: 1452, x2: 1458, y1: Yb(p), y2: Yb(p), stroke: '#111', 'stroke-width': 1});
    
    
  });
  txt('fig1b-x-title', 1594, 550, 'Binding Energy [eV]', 7, 'middle');
  vlabel('fig1b-y-title', 1443, 345, 'XPS intensity', 7);
  vlabel('fig1b-y-title-mcdad', 1443, 475, 'MCDAD', 7);
  txt('fig1b-panel-label', 1466, 287, 'b)', 7.5, 'start', {'font-weight': 'bold'});
  txt('fig1b-energy-label', 1707, 292, '700 eV', 8, 'end', {'font-weight': 'bold'});
  txt('fig1b-420k-label', 1464, 328, '420 K', 6.5);
  txt('fig1b-320k-label', 1468, 360, '320 K', 6.5);
  txt('fig1b-fe-label', 1570, 361, 'Fe', 10);
  txt('fig1b-rh-label', 1633, 389, 'Rh', 10);
  txt('fig1b-mcdad-x5', 1711, 496, 'MCDAD x5', 7.5, 'end');
  line('fig1b-legend-420k-line', [1485, 1500], [0, 0], v => v, v => 484.5, '#e82020', 1.2);
  dots('fig1b-legend-420k-marker', [1492], [0], v => v, v => 484.5, 2, '#e82020');
  txt('fig1b-legend-420k', 1504, 487, '420 K', 7.5);
  line('fig1b-legend-320k-line', [1485, 1500], [0, 0], v => v, v => 495, '#2030d0', 1.2);
  dots('fig1b-legend-320k-marker', [1492], [0], v => v, v => 495, 2, '#2030d0');
  txt('fig1b-legend-320k', 1504, 498, '320 K', 7.5);
})();

// ---------- FIG 2 (page 3) ----------
(function () {
  const X = lin(700, 730, 2038, 2224);
  const Yx = lin(0.6, 1.6, 305, 98), Ym = lin(5, -15, 328, 411);
  box('fig2a-frame', 2038, 93, 2281, 425, 1.5);
  line('fig2a-410k-green', feE, fe410Green, X, Yx, '#66e066', 1.8);
  line('fig2a-410k-black', feE, fe410Black, X, Yx, '#111', 1.5);
  line('fig2a-320k-green', feE, fe320Green, X, Yx, '#66e066', 1.8);
  line('fig2a-320k-black', feE, fe320Black, X, Yx, '#111', 1.5);
  area('fig2a-xmcd-fm-fill', feE, feXmcdFM, 0, X, Ym, '#f4b0b0');
  line('fig2a-xmcd-fm', feE, feXmcdFM, X, Ym, '#e82020', 1.4);
  line('fig2a-xmcd-rt', feE, feXmcdRT, X, Ym, '#2030d0', 1.4);
  tickY('fig2a-xas', feXasTicks, Yx, 2038, 7, 2033, 13.5, v => v.toFixed(1));
  tickY('fig2a-xmcd', feXmcdTicks, Ym, 2038, 7, 2033, 13.5);
  for (let e = 701; e < 739; e++) {
    const t = add('line', {x1: X(e), x2: X(e), y1: 425, y2: 421, stroke: '#111', 'stroke-width': 1});
    
    
  }
  tickX('fig2a-x', feETicks, X, 425, 7, 444, 13.5);
  txt('fig2a-x-title', 2161, 472, 'Energy [eV]', 14, 'middle');
  vlabel('fig2a-y-title-xas', 2008, 210, 'XAS [Arb. U.]', 13.5);
  vlabel('fig2a-y-title-xmcd', 2008, 375, 'XMCD [%]', 13.5);
  txt('fig2a-panel-label', 1981, 104, '(a)', 13.5);
  const fe = txt('fig2a-edge-label', 2049, 109, 'Fe L', 14);
  fe.innerHTML = 'Fe L<tspan font-size="10" dy="4">2,3</tspan><tspan dy="-4"> edge</tspan>';
  txt('fig2a-410k-label', 2278, 246, 'T=410 K', 13.5, 'end');
  txt('fig2a-320k-label', 2278, 311, 'T=320 K', 13.5, 'end');
  const Xi = lin(350, 400, 2214, 2258), Yi = lin(0.2, 1.0, 164.5, 99);
  const ib = add('rect', {x: 2182, y: 93, width: 97, height: 88, fill: '#fff', stroke: '#111', 'stroke-width': 1.2});
  
  
  line('fig2a-inset-heating', insetHeatT, insetHeatV, Xi, Yi, '#1530d8', 1.5);
  dots('fig2a-inset-heating-point', insetHeatT, insetHeatV, Xi, Yi, 2, '#1530d8');
  line('fig2a-inset-cooling', insetCoolT, insetCoolV, Xi, Yi, '#1530d8', 1.5);
  dots('fig2a-inset-cooling-point', insetCoolT, insetCoolV, Xi, Yi, 2, '#1530d8');
  tickY('fig2a-inset-y', [0.2, 0.4, 0.6, 0.8, 1.0], Yi, 2182, 3, 2180, 7, v => v.toFixed(1));
  tickX('fig2a-inset-x', [350, 400], Xi, 181, 3, 190, 7);
  txt('fig2a-inset-x-title', 2228, 199, 'Temperature [K]', 8, 'middle', {'font-weight': 'bold'});
  vlabel('fig2a-inset-y-title', 2163, 136, 'XMCD [norm]', 7.5, {'font-weight': 'bold'});

  const Xb = lin(480, 530, 2038, 2271);
  const Ybx = lin(2.6, 3.8, 711.5, 508), Ybm = lin(4, -6, 730, 818.7);
  box('fig2b-frame', 2038, 495, 2281, 828, 1.5);
  line('fig2b-410k-green', rhE, rh410Green, Xb, Ybx, '#66e066', 1.8);
  line('fig2b-410k-black', rhE, rh410Black, Xb, Ybx, '#111', 1.5);
  line('fig2b-320k-green', rhE, rh320Green, Xb, Ybx, '#66e066', 1.8);
  line('fig2b-320k-black', rhE, rh320Black, Xb, Ybx, '#111', 1.5);
  area('fig2b-xmcd-fm-fill', rhE, rhXmcdFM, 0, Xb, Ybm, '#f4b0b0');
  line('fig2b-xmcd-fm', rhE, rhXmcdFM, Xb, Ybm, '#e82020', 1.4);
  line('fig2b-xmcd-rt', rhE, rhXmcdRT, Xb, Ybm, '#2030d0', 1.4);
  tickY('fig2b-xas', rhXasTicks, Ybx, 2038, 7, 2033, 13.5, v => v.toFixed(1));
  tickY('fig2b-xmcd', rhXmcdTicks, Ybm, 2038, 7, 2033, 13.5);
  for (let e = 481; e < 532; e++) {
    const t = add('line', {x1: Xb(e), x2: Xb(e), y1: 828, y2: 824, stroke: '#111', 'stroke-width': 1});
    
    
  }
  tickX('fig2b-x', rhETicks, Xb, 828, 7, 847, 13.5);
  txt('fig2b-x-title', 2161, 876, 'Energy [eV]', 14, 'middle');
  vlabel('fig2b-y-title-xas', 2008, 610, 'XAS [Arb. U.]', 13.5);
  vlabel('fig2b-y-title-xmcd', 2008, 778, 'XMCD [%]', 13.5);
  txt('fig2b-panel-label', 1981, 507, '(b)', 13.5);
  const rh = txt('fig2b-edge-label', 2047, 512, 'Rh M', 14);
  rh.innerHTML = 'Rh M<tspan font-size="10" dy="4">2,3</tspan><tspan dy="-4"> edge</tspan>';
  txt('fig2b-410k-label', 2278, 598, 'T=410 K', 13.5, 'end');
  txt('fig2b-320k-label', 2278, 686, 'T=320 K', 13.5, 'end');
})();

// ---------- FIG 3 (page 4) ----------
(function () {
  const X = lin(1, 10, 2982, 3228), Y = lin(0, -10, 126, 177);
  txt('fig3-title', 3098, 90, 'Atomic plane', 14, 'middle');
  box('fig3-frame', 2955, 100, 3242, 182, 1.3);
  planes.forEach(p => {
    const g = add('line', {x1: X(p), x2: X(p), y1: 100, y2: 182, stroke: '#7777dd', 'stroke-width': 0.8, 'stroke-dasharray': '1.5,2'});
    
    
  });
  line('fig3-zero-line', [0.3, 10.7], [0, 0], X, Y, '#111', 1.5);
  line('fig3-fm-line', planes, devFM, X, Y, '#222', 1);
  line('fig3-afm-line', planes, devAFM, X, Y, '#666', 1);
  planes.forEach((p, i) => {
    const col = planeSpecies[i] === 'Fe' ? '#ff8c00' : '#8a8a8a';
    const c = add('circle', {cx: X(p), cy: Y(devFM[i]), r: 3.6, fill: col});
    
    
    const c2 = add('circle', {cx: X(p), cy: Y(devAFM[i]), r: 2.8, fill: '#fff', stroke: col, 'stroke-width': 1.2});
    
    
  });
  tickY('fig3-y', devTicks, Y, 2955, 5, 2950, 13, v => String(v));
  vlabel('fig3-y-title', 2924, 140, 'Deviation from bulk (%)', 8.5, {'font-weight': 'bold'});
  txt('fig3-legend-afm', 3137, 145, 'AFM', 10.5, 'middle');
  txt('fig3-legend-fm', 3165, 145, 'FM', 10.5, 'middle');
  txt('fig3-legend-fe', 3109, 160, 'Fe', 10.5, 'middle');
  txt('fig3-legend-rh', 3109, 176, 'Rh', 10.5, 'middle');
  [[3138, 157, '#ff8c00', 0], [3164, 157, '#ff8c00', 1], [3138, 172, '#8a8a8a', 0], [3164, 172, '#8a8a8a', 1]].forEach(m => {
    const c = add('circle', {cx: m[0], cy: m[1], r: 3.2, fill: m[3] ? m[2] : '#fff', stroke: m[2], 'stroke-width': 1.2});
    
    
  });
  const top = 207, bot = 284, mid = 245.5;
  const bg = add('rect', {x: 2958, y: top, width: 286, height: bot - top, fill: '#808080'});
  
  
  const clip = add('clipPath', {id: 'mapclip'});
  const cr = document.createElementNS(NS, 'rect');
  cr.setAttribute('x', 2958); cr.setAttribute('y', top); cr.setAttribute('width', 286); cr.setAttribute('height', bot - top);
  clip.appendChild(cr);
  planes.forEach((p, i) => {
    if (spinTop[i] !== 0) {
      [top, bot].forEach(yy => {
        const e = add('circle', {cx: X(p), cy: yy, r: 15, fill: spinTop[i] > 0 ? 'url(#gRed)' : 'url(#gBlue)', 'clip-path': 'url(#mapclip)'});
        
        
      });
    }
    if (spinMid[i] > 0) {
      const e = add('circle', {cx: X(p), cy: mid, r: 13, fill: 'url(#gPink)', opacity: spinMid[i] + 0.2});
      
      
    }
  });
  planes.forEach((p, i) => {
    const isFe = planeSpecies[i] === 'Fe';
    const ys = isFe ? [top, bot] : [top, mid, bot];
    ys.forEach(yy => {
      const a = add('circle', {cx: X(p), cy: yy, r: isFe ? 5 : 4.3, fill: isFe ? 'url(#gAtomFe)' : 'url(#gAtomRh)'});
      
      
    });
  });
  const lg = add('rect', {x: 2903, y: 213, width: 50, height: 9, fill: '#fff', stroke: '#555', 'stroke-width': 0.8});
  
  
  txt('fig3-scale-legend-title', 2928, 220, 'Scale:  Δ n(r)', 5.5, 'middle');
  const scaleVals = ['-0.1000', '-0.0600', '-0.0200', '+0.0200', '+0.0600', '+0.1000'];
  const scaleCols = ['#0010b0', '#6070c8', '#e0e0f0', '#f0dede', '#d06060', '#c00000'];
  scaleVals.forEach((s, i) => {
    const sq = add('rect', {x: 2904, y: 227 + i * 9.3, width: 3.5, height: 3.5, fill: scaleCols[i], stroke: '#555', 'stroke-width': 0.4});
    
    
    txt('fig3-scale-label', 2918, 231 + i * 9.3, s, 5.5);
  });
})();
</script>
</body></html>
